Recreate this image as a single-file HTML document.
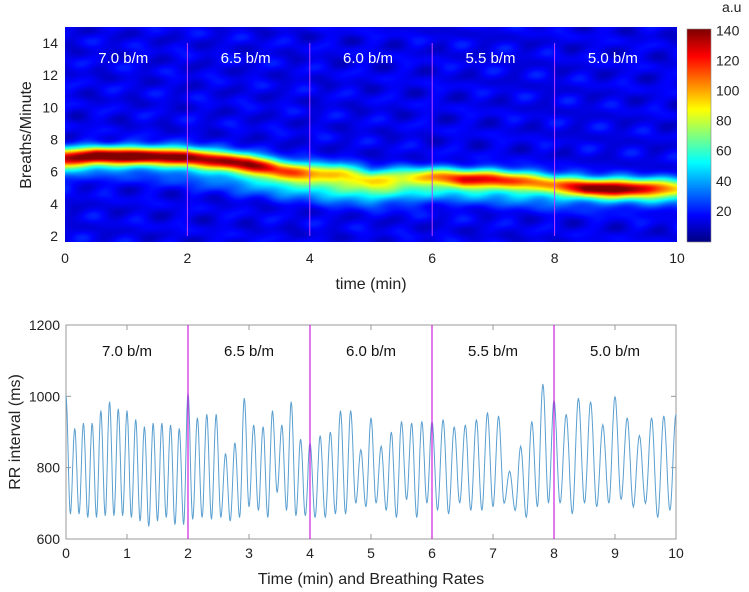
<!DOCTYPE html>
<html><head><meta charset="utf-8"><style>
body{margin:0;background:#fff;width:749px;height:592px;overflow:hidden;font-family:"Liberation Sans",sans-serif}
svg text{font-family:"Liberation Sans",sans-serif}
</style></head><body>
<div style="position:relative;width:749px;height:592px">
<canvas id="hm" width="612" height="215" style="position:absolute;left:65px;top:27px"></canvas>
<canvas id="cb" width="24" height="213" style="position:absolute;left:687px;top:29px"></canvas>
<svg id="sv" width="749" height="592" style="position:absolute;left:0;top:0"></svg>
</div>
<script>
// ---- heatmap data ----
const ridgeTimes=[0,0.5,1,1.5,2,2.5,3,3.5,4,4.5,5,5.5,6,6.5,7,7.5,8,8.5,9,9.5,10];
const ridgeFreq=[6.9,7.0,7.0,7.0,6.95,6.75,6.55,6.2,6.0,6.0,5.6,5.7,5.75,5.6,5.6,5.5,5.3,5.05,5.0,5.0,5.0];
const ridgeAmp=[105,130,130,125,120,115,120,85,70,65,50,55,70,90,90,75,65,110,115,95,60];
const band2Freq=[6.4,6.3,6.3,6.2,6.1,5.8,5.6,5.4,5.2,5.0,4.9,4.9,5.0,5.0,4.9,4.8,4.7,4.6,4.6,4.6,4.6];
const band2Amp=[25,15,15,15,25,25,35,45,45,50,50,40,35,35,35,35,35,25,25,25,25];
const cbTicks=[20,40,60,80,100,120,140];
// ---- RR data ----
const segRates=[7,6.5,6,5.5,5];
const rrPeaks=[[1000,910,925,925,960,985,965,960,935,915,925,925,920,910],
[1010,940,950,950,840,870,995,920,915,960,920,985,880],
[870,890,900,960,960,850,940,860,900,930,925,930],
[930,935,915,920,935,955,945,790,860,930,1035],
[990,950,995,985,920,1000,940,890,940,945]];
const rrTroughs=[[670,670,660,660,665,665,665,660,650,635,650,660,640,640],
[655,660,655,660,650,660,690,680,660,730,680,665,665],
[660,660,670,670,700,690,700,680,660,710,660,700],
[680,670,700,680,680,690,700,680,660,690,700],
[700,670,700,690,700,710,690,700,660,680]];
const segLabels=["7.0 b/m","6.5 b/m","6.0 b/m","5.5 b/m","5.0 b/m"];
const xTicks=[0,1,2,3,4,5,6,7,8,9,10];
const yTicksRR=[600,800,1000,1200];
const yTicksHM=[2,4,6,8,10,12,14];
const xTicksHM=[0,2,4,6,8,10];

function jet(x){x=Math.max(0,Math.min(1,x));const c=v=>Math.round(255*Math.max(0,Math.min(1,v)));
return [c(1.5-Math.abs(4*x-3)),c(1.5-Math.abs(4*x-2)),c(1.5-Math.abs(4*x-1))];}
function interp(arr,t){const i=Math.min(arr.length-2,Math.floor(t/0.5));const f=(t-ridgeTimes[i])/0.5;return arr[i]*(1-f)+arr[i+1]*f;}
const hL=65,hR=677,hT=27,hB=242;
const hx=t=>hL+t/10*(hR-hL);
const hy=f=>236-(f-2)/12*193;
const VMAX=142;
(function(){
const c=document.getElementById('hm').getContext('2d');const W=612,H=215;const img=c.createImageData(W,H);
for(let py=0;py<H;py++){const f=2-(py+27-236)*12/193;
for(let px=0;px<W;px++){const t=px/W*10;
const fr=interp(ridgeFreq,t),a=interp(ridgeAmp,t),f2=interp(band2Freq,t),a2=interp(band2Amp,t);
let v=a*Math.exp(-Math.pow(f-fr,2)/(2*0.4*0.4))+a2*Math.exp(-Math.pow(f-f2,2)/(2*0.6*0.6));
const tex=Math.sin(t*5.3+f*1.7)*Math.sin(f*2.9-t*3.1)+0.6*Math.sin(t*8.7-f*1.1+1.3)*Math.sin(f*4.1+t*0.7);
v+=15+5*tex;
const col=jet(v/VMAX);const k=(py*W+px)*4;img.data[k]=col[0];img.data[k+1]=col[1];img.data[k+2]=col[2];img.data[k+3]=255;}}
c.putImageData(img,0,0);
const cb=document.getElementById('cb').getContext('2d');
for(let y=0;y<213;y++){const col=jet(1-y/213);cb.fillStyle=`rgb(${col})`;cb.fillRect(0,y,24,1);}
})();
const sv=document.getElementById('sv');const NS='http://www.w3.org/2000/svg';
function el(tag,attrs,txt){const e=document.createElementNS(NS,tag);for(const k in attrs)e.setAttribute(k,attrs[k]);if(txt!==undefined)e.textContent=txt;sv.appendChild(e);return e;}
yTicksHM.forEach(v=>{const e=el('text',{x:58,y:hy(v)+5,'text-anchor':'end','font-size':14,fill:'#222'},v);

});
xTicksHM.forEach(v=>{const e=el('text',{x:hx(v),y:263,'text-anchor':'middle','font-size':14,fill:'#222'},v);

});
[2,4,6,8].forEach(v=>{const e=el('line',{x1:hx(v),x2:hx(v),y1:hy(14),y2:hy(2),stroke:'#c040ff','stroke-width':1});

});
segLabels.forEach((s,i)=>{const e=el('text',{x:hx(i*2+1.05)-6,y:63,'text-anchor':'middle','font-size':15,fill:'#fff'},s);

});
let e1=el('text',{x:371,y:289,'text-anchor':'middle','font-size':16,fill:'#222'},'time (min)');

e1=el('text',{x:0,y:0,'text-anchor':'middle','font-size':16,fill:'#222',transform:'translate(31,135) rotate(-90)'},'Breaths/Minute');

el('rect',{x:687,y:29,width:24,height:213,fill:'none',stroke:'#888','stroke-width':0.6});
cbTicks.forEach(v=>{const e=el('text',{x:716,y:241-v/20*30.1+5,'font-size':14,fill:'#222'},v);

});
e1=el('text',{x:722,y:12,'font-size':14,fill:'#222'},'a.u');

const L=66,R=676,T=325,B=539;
const rx=t=>L+t/10*(R-L);const ry=v=>B-(v-600)/600*(B-T);
el('rect',{x:L,y:T,width:R-L,height:B-T,fill:'#fff',stroke:'#999','stroke-width':1});
xTicks.forEach(v=>{el('line',{x1:rx(v),x2:rx(v),y1:B,y2:B-5,stroke:'#999'});el('line',{x1:rx(v),x2:rx(v),y1:T,y2:T+5,stroke:'#999'});
const e=el('text',{x:rx(v),y:558,'text-anchor':'middle','font-size':14,fill:'#222'},v);

});
yTicksRR.forEach(v=>{el('line',{x1:L,x2:L+5,y1:ry(v),y2:ry(v),stroke:'#999'});el('line',{x1:R,x2:R-5,y1:ry(v),y2:ry(v),stroke:'#999'});
const e=el('text',{x:60,y:ry(v)+5,'text-anchor':'end','font-size':14,fill:'#222'},v);

});
let pts=[];
segRates.forEach((r,s)=>{const n=rrPeaks[s].length;const d=2/n;
for(let i=0;i<n;i++){const t0=s*2+i*d;pts.push([t0,rrPeaks[s][i]]);pts.push([t0+d/2,rrTroughs[s][i]]);}});
pts.push([10,950]);
let dstr='';
for(let i=0;i<pts.length-1;i++){const[a,va]=pts[i],[b,vb]=pts[i+1];
for(let k=0;k<=8;k++){const f=k/8;const t=a+(b-a)*f;const v=va+(vb-va)*(1-Math.cos(Math.PI*f))/2;
dstr+=(dstr?'L':'M')+rx(t).toFixed(1)+','+ry(v).toFixed(1);}}
const line=el('path',{d:dstr,fill:'none',stroke:'#5a9fd0','stroke-width':1});

[2,4,6,8].forEach(v=>{const e=el('line',{x1:rx(v),x2:rx(v),y1:T,y2:B,stroke:'#d020e0','stroke-width':1.2});

});
segLabels.forEach((s,i)=>{const e=el('text',{x:rx(i*2+1),y:356,'text-anchor':'middle','font-size':15,fill:'#111'},s);

});
e1=el('text',{x:371,y:584,'text-anchor':'middle','font-size':16,fill:'#222'},'Time (min) and Breathing Rates');

e1=el('text',{x:0,y:0,'text-anchor':'middle','font-size':16,fill:'#222',transform:'translate(20,432) rotate(-90)'},'RR interval (ms)');

</script>
</body></html>
